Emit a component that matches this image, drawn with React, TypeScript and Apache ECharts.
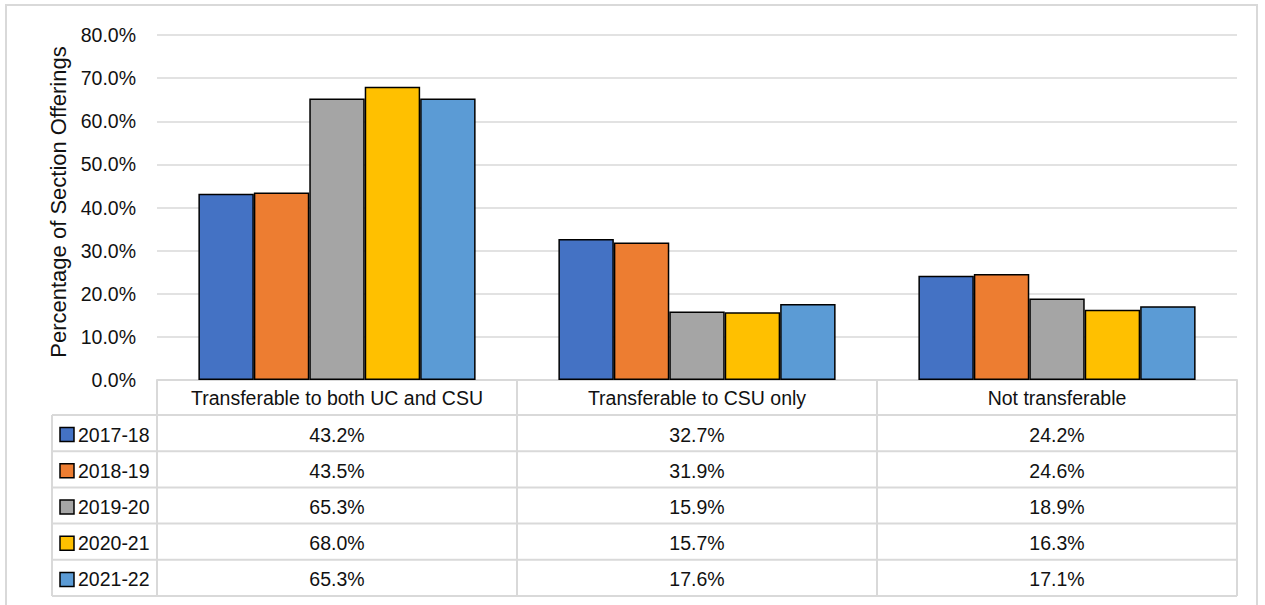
import React, { useEffect, useRef } from "react";
import * as echarts from "echarts";

const categories = ["Transferable to both UC and CSU", "Transferable to CSU only", "Not transferable"];
const years = ["2017-18", "2018-19", "2019-20", "2020-21", "2021-22"];
const colors = ["#4472C4", "#ED7D31", "#A5A5A5", "#FFC000", "#5B9BD5"];
const values2017 = [43.2, 32.7, 24.2];
const values2018 = [43.5, 31.9, 24.6];
const values2019 = [65.3, 15.9, 18.9];
const values2020 = [68.0, 15.7, 16.3];
const values2021 = [65.3, 17.6, 17.1];
const seriesValues = [values2017, values2018, values2019, values2020, values2021];
const yMin = 0;
const yMax = 80;
const yInterval = 10;
const yTitle = "Percentage of Section Offerings";

const FONT = "'Liberation Sans', Arial, sans-serif";
const TEXT = "#111111";
const LINE = "#d9d9d9";

export default function App() {
  const ref = useRef<HTMLDivElement>(null);
  useEffect(() => {
    if (!ref.current) return;
    const chart = echarts.init(ref.current, undefined, { renderer: "svg" });
    const W = 1265;
    const gridL = 157;
    const gridR = 1237;
    const gridT = 35;
    const gridB = 380;
    const tableHeadBottom = 415;
    const rowH = 36.2;
    const legendL = 52;
    const colW = (gridR - gridL) / categories.length;

    const graphics: any[] = [];
    graphics.push({
      type: "rect",
      shape: { x: 6, y: 5, width: 1251, height: 700 },
      style: { fill: "none", stroke: LINE, lineWidth: 2 },
      silent: true,
    });
    graphics.push({
      type: "text",
      x: 58,
      y: 202,
      rotation: Math.PI / 2,
      style: {
        text: yTitle,
        font: `22px ${FONT}`,
        fill: TEXT,
        align: "center",
        verticalAlign: "middle",
      },
    });
    for (let i = 0; i <= years.length; i++) {
      const y = tableHeadBottom + i * rowH;
      graphics.push({
        type: "line",
        shape: { x1: legendL, y1: y, x2: gridR, y2: y },
        style: { stroke: LINE, lineWidth: 2 },
        silent: true,
      });
    }
    graphics.push({
      type: "line",
      shape: { x1: legendL, y1: tableHeadBottom, x2: legendL, y2: tableHeadBottom + years.length * rowH },
      style: { stroke: LINE, lineWidth: 2 },
      silent: true,
    });
    years.forEach((yr, i) => {
      const cy = tableHeadBottom + (i + 0.5) * rowH + 1.5;
      graphics.push({
        type: "rect",
        shape: { x: 60, y: cy - 7, width: 14, height: 14 },
        style: { fill: colors[i], stroke: "#000", lineWidth: 1.5 },
      });
      graphics.push({
        type: "text",
        x: 78,
        y: cy,
        style: { text: yr, font: `19.5px ${FONT}`, fill: TEXT, align: "left", verticalAlign: "middle" },
      });
      seriesValues[i].forEach((v, j) => {
        graphics.push({
          type: "text",
          x: gridL + (j + 0.5) * colW,
          y: cy,
          style: {
            text: `${v.toFixed(1)}%`,
            font: `19.5px ${FONT}`,
            fill: TEXT,
            align: "center",
            verticalAlign: "middle",
          },
        });
      });
    });

    chart.setOption({
      animation: false,
      backgroundColor: "#ffffff",
      grid: { left: gridL, right: W - gridR, top: gridT, bottom: 605 - gridB, containLabel: false },
      xAxis: {
        type: "category",
        data: categories,
        axisLine: { show: true, lineStyle: { color: LINE, width: 2 } },
        axisTick: {
          show: true,
          length: tableHeadBottom + years.length * rowH - gridB,
          lineStyle: { color: LINE, width: 2 },
        },
        axisLabel: {
          margin: 1,
          fontFamily: FONT,
          fontSize: 19.5,
          lineHeight: 34,
          color: TEXT,
          interval: 0,
        },
      },
      yAxis: {
        type: "value",
        min: yMin,
        max: yMax,
        interval: yInterval,
        axisLine: { show: false },
        axisTick: { show: false },
        axisLabel: {
          margin: 21,
          fontFamily: FONT,
          fontSize: 19.5,
          color: TEXT,
          formatter: (v: number) => `${v.toFixed(1)}%`,
        },
        splitLine: { show: true, lineStyle: { color: LINE, width: 1.5 } },
      },
      series: years.map((yr, i) => ({
        name: yr,
        type: "bar",
        data: seriesValues[i],
        barGap: "0%",
        barCategoryGap: "23%",
        itemStyle: { color: colors[i], borderColor: "#000", borderWidth: 1.5 },
      })),
      graphic: graphics,
    });
    return () => chart.dispose();
  }, []);
  return (
    <div
      ref={ref}
      style={{ position: "absolute", left: 0, top: 0, width: 1265, height: 605, background: "#fff" }}
    />
  );
}
